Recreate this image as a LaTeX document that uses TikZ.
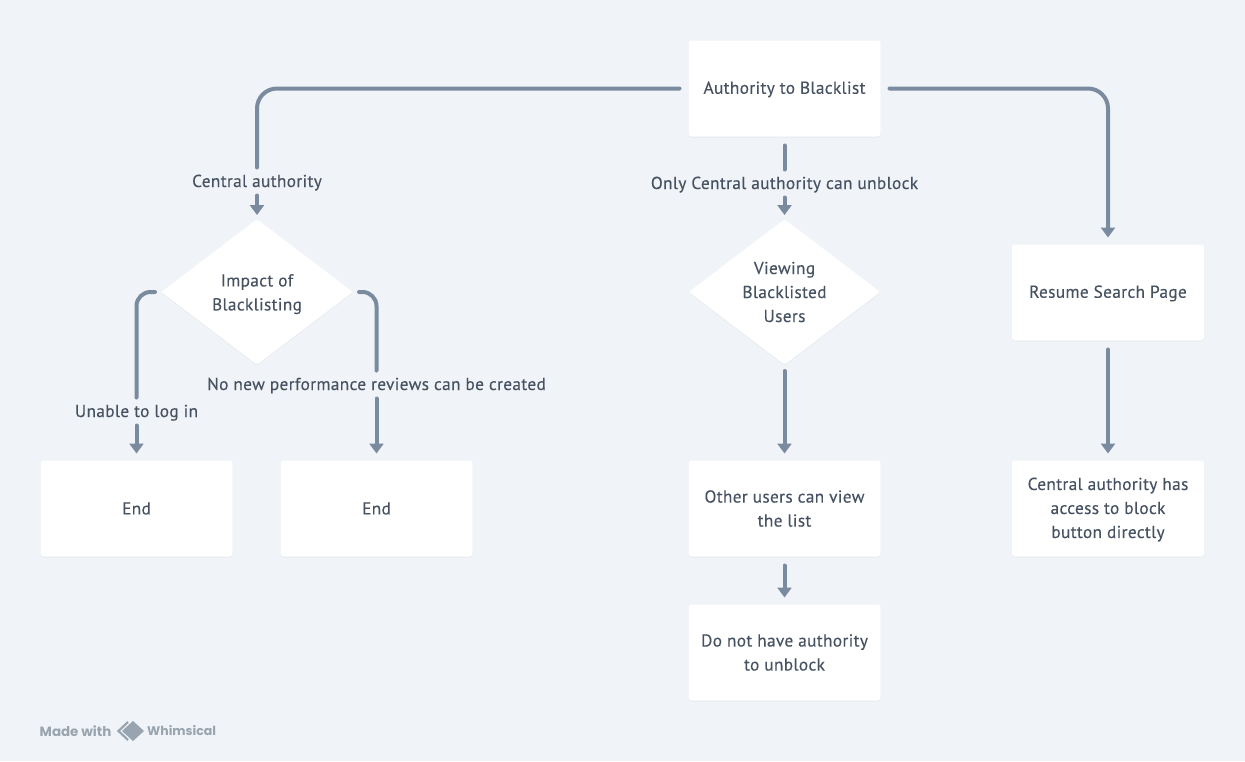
\documentclass[tikz,border=0pt]{standalone}
\usepackage{fontspec}
\setmainfont[LetterSpace=2,FakeBold=0.2]{PT Sans}
\newfontfamily\wmfont{Poppins}
\usetikzlibrary{arrows.meta,shapes.geometric,shadows}
\definecolor{bgcol}{HTML}{F0F3F7}
\definecolor{linecol}{HTML}{7A8BA0}
\definecolor{textcol}{HTML}{465262}
\definecolor{wmcol}{HTML}{98A4AF}
\tikzset{
  softshadow/.style={drop shadow={shadow xshift=0pt,shadow yshift=-1pt,fill=black,opacity=0.04}},
  boxnode/.style={rectangle,fill=white,rounded corners=3pt,minimum width=192pt,minimum height=96pt,inner sep=0pt,outer sep=7pt,align=center,softshadow},
  onerow/.style={text height=14.5pt,text depth=4pt},
  decnode/.style={diamond,fill=white,rounded corners=2pt,shape aspect=1.31,minimum width=194pt,minimum height=148pt,inner sep=0pt,outer sep=3pt,align=center,softshadow},
  lblnode/.style={inner sep=0pt,text height=15pt,text depth=4pt,outer sep=2.5pt},
  wmnode/.style={inner sep=0pt,text=wmcol,font=\wmfont\bfseries},
  conn/.style={line width=4pt,draw=linecol,line cap=round,shorten <=2pt,shorten >=2pt},
  arr/.style={conn,shorten >=0pt,-{Triangle[length=10pt,width=14pt]}}
}
\begin{document}
\begin{tikzpicture}[x=1pt,y=-1pt,text=textcol,font=\fontsize{17.3}{24}\selectfont]
\path[use as bounding box,fill=bgcol] (0,0) rectangle (1245,761);
% boxes
\node[boxnode,onerow] (top) at (784.5,88.5) {Authority to Blacklist};
\node[decnode] (impact) at (257,292) {\rule{0pt}{16.5pt}Impact of\\Blacklisting};
\node[decnode] (viewing) at (784.5,292) {Viewing\\Blacklisted\\Users};
\node[boxnode,onerow] (resume) at (1108,292.5) {Resume Search Page};
\node[boxnode] (endA) at (136.5,508.5) {End};
\node[boxnode] (endB) at (376.5,508.5) {End};
\node[boxnode] (others) at (784.5,508.5) {Other users can view\\the list};
\node[boxnode] (access) at (1108,508.5) {\rule{0pt}{14.5pt}Central authority has\\access to block\\button directly};
\node[boxnode] (noauth) at (784.5,652.5) {Do not have authority\\to unblock};
% labels
\node[lblnode] (lblCentral) at (257,181.5) {Central authority};
\node[lblnode] (lblOnly) at (784.5,183.5) {Only Central authority can unblock};
\node[lblnode] (lblLogin) at (136.5,411.5) {Unable to log in};
\node[lblnode] (lblReviews) at (376.5,384.5) {No new performance reviews can be created};
% connectors
\draw[conn,rounded corners=20pt] (top.west) -| (lblCentral.north);
\draw[arr] (lblCentral.south) -- (impact.north);
\draw[conn] (top.south) -- (lblOnly.north);
\draw[arr] (lblOnly.south) -- (viewing.north);
\draw[arr,rounded corners=20pt] (top.east) -| (resume.north);
\draw[conn,rounded corners=14pt] (impact.west) -| (lblLogin.north);
\draw[arr] (lblLogin.south) -- (endA.north);
\draw[conn,rounded corners=14pt] (impact.east) -| (lblReviews.north);
\draw[arr] (lblReviews.south) -- (endB.north);
\draw[arr] (viewing.south) -- (others.north);
\draw[arr] (others.south) -- (noauth.north);
\draw[arr] (resume.south) -- (access.north);
% watermark
\node[wmnode,anchor=west,font=\wmfont\bfseries\fontsize{13.4}{14}\selectfont] (made) at (39.5,731) {Made with};
\node[wmnode,anchor=west,font=\wmfont\bfseries\fontsize{12.5}{14}\selectfont] (whim) at (147,731) {Whimsical};
\fill[wmcol] (133,721) -- (144,731) -- (133,741) -- (122,731) -- cycle;
\draw[wmcol,line width=2.2pt] (128,722) -- (118.5,731) -- (128,740);
\end{tikzpicture}
\end{document}
